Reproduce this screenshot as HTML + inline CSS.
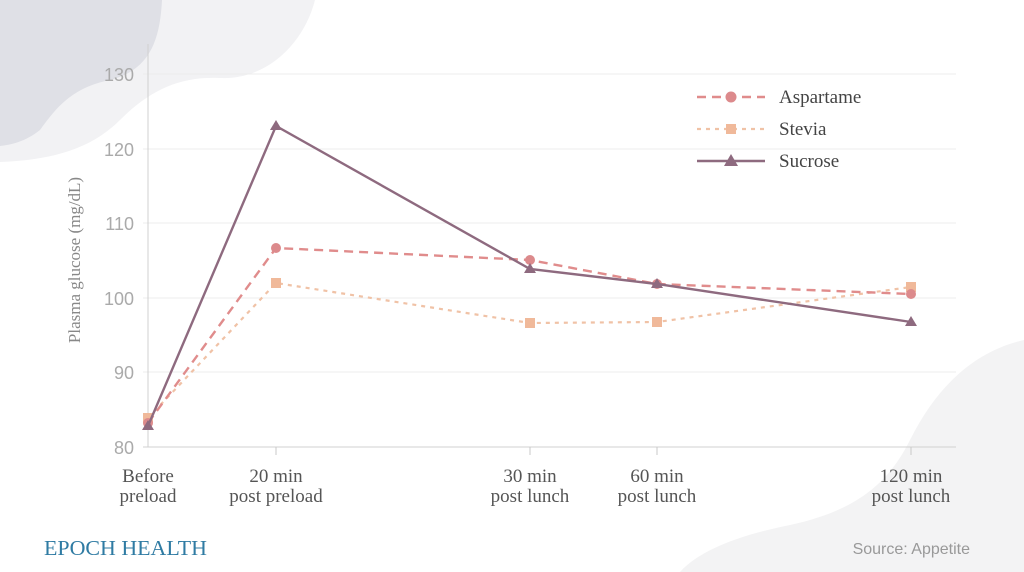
<!DOCTYPE html>
<html><head><style>
body{margin:0;width:1024px;height:572px;overflow:hidden;background:#fff;}
</style></head><body>
<svg width="1024" height="572" xmlns="http://www.w3.org/2000/svg" style="position:absolute;left:0;top:0">
<path d="M0,0 H315 C305,40 270,80 220,78 C180,76 150,90 120,120 C90,150 50,160 0,162 Z" fill="#f2f2f4"/>
<path d="M0,0 H162 C160,40 150,70 110,80 C70,88 55,110 40,130 C25,142 10,145 0,146 Z" fill="#dfe0e6"/>
<path d="M1024,340 C980,350 940,380 910,440 C890,480 860,510 790,525 C740,535 700,550 680,572 H1024 Z" fill="#f3f3f4"/>
<g stroke="#ececec" stroke-width="1">
<line x1="143" y1="74" x2="956" y2="74"/><line x1="143" y1="149" x2="956" y2="149"/>
<line x1="143" y1="223" x2="956" y2="223"/><line x1="143" y1="298" x2="956" y2="298"/>
<line x1="143" y1="372" x2="956" y2="372"/>
</g>
<line x1="148" y1="44" x2="148" y2="447" stroke="#d0d0d0"/>
<line x1="143" y1="447" x2="956" y2="447" stroke="#d0d0d0"/>
<g stroke="#c8c8c8"><line x1="276" y1="447" x2="276" y2="455"/><line x1="530" y1="447" x2="530" y2="455"/><line x1="657" y1="447" x2="657" y2="455"/><line x1="911" y1="447" x2="911" y2="455"/></g>
<g font-family="Liberation Sans, sans-serif" font-size="18" fill="#aaa" text-anchor="end">
<text x="134" y="81">130</text><text x="134" y="156">120</text><text x="134" y="230">110</text>
<text x="134" y="305">100</text><text x="134" y="379">90</text><text x="134" y="454">80</text>
</g>
<text transform="translate(80,260) rotate(-90)" text-anchor="middle" font-family="Liberation Serif, serif" font-size="17" fill="#888">Plasma glucose (mg/dL)</text>
<g font-family="Liberation Serif, serif" font-size="19" fill="#555" text-anchor="middle">
<text x="148" y="482">Before</text><text x="148" y="502">preload</text>
<text x="276" y="482">20 min</text><text x="276" y="502">post preload</text>
<text x="530" y="482">30 min</text><text x="530" y="502">post lunch</text>
<text x="657" y="482">60 min</text><text x="657" y="502">post lunch</text>
<text x="911" y="482">120 min</text><text x="911" y="502">post lunch</text>
</g>
<polyline points="148,418 276,283 530,323 657,322 911,287" fill="none" stroke="#f0c2a6" stroke-width="2.2" stroke-dasharray="4,5"/>
<g fill="#f0b99a"><rect x="143" y="413" width="10" height="10"/><rect x="271" y="278" width="10" height="10"/><rect x="525" y="318" width="10" height="10"/><rect x="652" y="317" width="10" height="10"/><rect x="906" y="282" width="10" height="10"/></g>
<polyline points="148,423 276,248 530,260 657,284 911,294" fill="none" stroke="#e08c8c" stroke-width="2.4" stroke-dasharray="9,6"/>
<g fill="#dc8a8c"><circle cx="148" cy="423" r="5"/><circle cx="276" cy="248" r="5"/><circle cx="530" cy="260" r="5"/><circle cx="657" cy="284" r="5"/><circle cx="911" cy="294" r="5"/></g>
<polyline points="148,426 276,126 530,269 657,284 911,322" fill="none" stroke="#8e6a7f" stroke-width="2.4"/>
<g fill="#8e6a7f"><path d="M148,420 l6,10 h-12z"/><path d="M276,120 l6,10 h-12z"/><path d="M530,263 l6,10 h-12z"/><path d="M657,278 l6,10 h-12z"/><path d="M911,316 l6,10 h-12z"/></g>
<line x1="697" y1="97" x2="765" y2="97" stroke="#e08c8c" stroke-width="2.4" stroke-dasharray="9,6"/><circle cx="731" cy="97" r="5.5" fill="#dc8a8c"/>
<line x1="697" y1="129" x2="765" y2="129" stroke="#f0c2a6" stroke-width="2.2" stroke-dasharray="4,5"/><rect x="726" y="124" width="10" height="10" fill="#f0b99a"/>
<line x1="697" y1="161" x2="765" y2="161" stroke="#8e6a7f" stroke-width="2.4"/><path d="M731,154 l7,12 h-14z" fill="#8e6a7f"/>
<g font-family="Liberation Serif, serif" font-size="19" fill="#444"><text x="779" y="103">Aspartame</text><text x="779" y="135">Stevia</text><text x="779" y="167">Sucrose</text></g>
<text x="44" y="555" font-family="Liberation Serif, serif" font-size="21" fill="#2f7ba3" textLength="163" lengthAdjust="spacingAndGlyphs">EPOCH HEALTH</text>
<text x="970" y="554" text-anchor="end" font-family="Liberation Sans, sans-serif" font-size="16" fill="#999">Source: Appetite</text>
</svg>
</body></html>
